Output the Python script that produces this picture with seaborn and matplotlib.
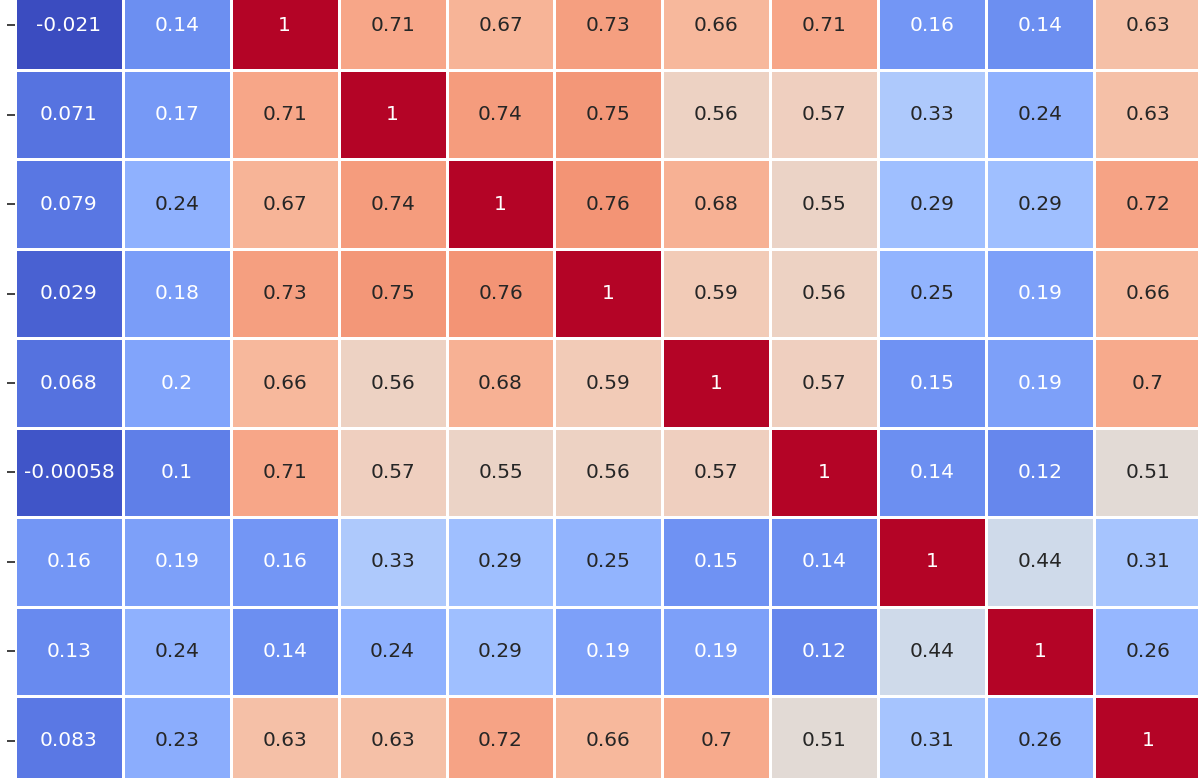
import numpy as np
import pandas as pd
import seaborn as sns
import matplotlib.pyplot as plt

# visible part of the correlation matrix (rows = variables 2..10, cols = variables 0..10)
row_names = ["v2", "v3", "v4", "v5", "v6", "v7", "v8", "v9", "v10"]
col_names = ["v0", "v1", "v2", "v3", "v4", "v5", "v6", "v7", "v8", "v9", "v10"]

r_v2 = [-0.021, 0.14, 1, 0.71, 0.67, 0.73, 0.66, 0.71, 0.16, 0.14, 0.63]
r_v3 = [0.071, 0.17, 0.71, 1, 0.74, 0.75, 0.56, 0.57, 0.33, 0.24, 0.63]
r_v4 = [0.079, 0.24, 0.67, 0.74, 1, 0.76, 0.68, 0.55, 0.29, 0.29, 0.72]
r_v5 = [0.029, 0.18, 0.73, 0.75, 0.76, 1, 0.59, 0.56, 0.25, 0.19, 0.66]
r_v6 = [0.068, 0.2, 0.66, 0.56, 0.68, 0.59, 1, 0.57, 0.15, 0.19, 0.7]
r_v7 = [-0.00058, 0.1, 0.71, 0.57, 0.55, 0.56, 0.57, 1, 0.14, 0.12, 0.51]
r_v8 = [0.16, 0.19, 0.16, 0.33, 0.29, 0.25, 0.15, 0.14, 1, 0.44, 0.31]
r_v9 = [0.13, 0.24, 0.14, 0.24, 0.29, 0.19, 0.19, 0.12, 0.44, 1, 0.26]
r_v10 = [0.083, 0.23, 0.63, 0.63, 0.72, 0.66, 0.7, 0.51, 0.31, 0.26, 1]

corr = pd.DataFrame([r_v2, r_v3, r_v4, r_v5, r_v6, r_v7, r_v8, r_v9, r_v10],
                    index=row_names, columns=col_names)

fig = plt.figure(figsize=(11.98, 7.78), dpi=100)
# the reference is a crop, so the axes run past the figure edges
ax = fig.add_axes([0.0125, -0.0095, 0.9907, 1.0344])
sns.heatmap(corr, annot=True, cmap="coolwarm", linewidths=0.8, linecolor="white",
            cbar=False, annot_kws={"fontsize": 14.5}, ax=ax)
# tick labels lie outside the cropped area in the reference, only the marks show
ax.set_yticklabels([])
ax.set_xticklabels([])
ax.tick_params(axis="x", length=0)
ax.tick_params(axis="y", length=6, width=1.3, color="#333333")

plt.savefig("out.png", dpi=100)
